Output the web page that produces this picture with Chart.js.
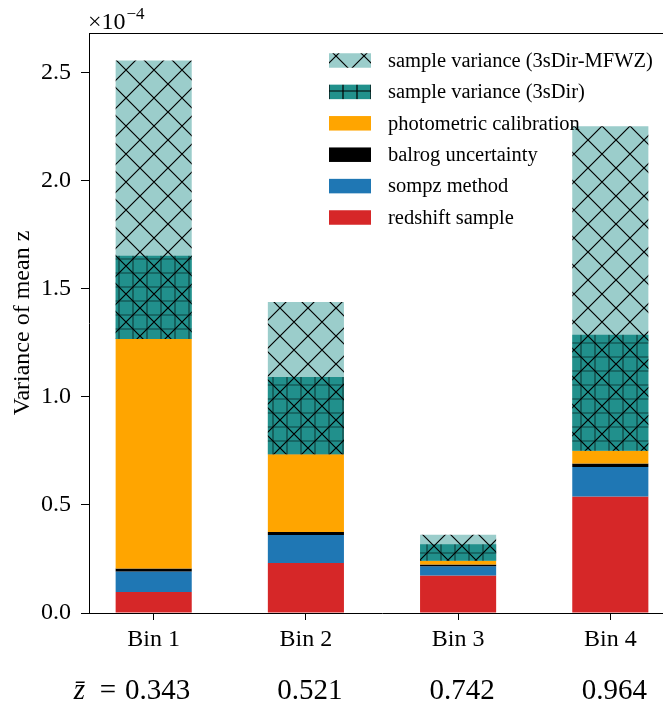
<!DOCTYPE html>
<html>
<head>
<meta charset="utf-8">
<script src="https://cdn.jsdelivr.net/npm/chart.js@4.4.1/dist/chart.umd.min.js"></script>
<style>
  html, body { margin: 0; padding: 0; overflow: hidden; background: #fff; }
  canvas { display: block; }
</style>
</head>
<body>
<canvas id="chart" width="700" height="704"></canvas>
<script>
// Tomographic bins and their mean redshifts
const bins = ['Bin 1', 'Bin 2', 'Bin 3', 'Bin 4'];
const zMeans = ['0.343', '0.521', '0.742', '0.964'];

// Contributions to the variance of the mean redshift, in units of 1e-4
const redshiftSample         = [0.097, 0.231, 0.174, 0.539];
const sompzMethod            = [0.095, 0.130, 0.042, 0.136];
const balrogUncertainty      = [0.014, 0.014, 0.008, 0.017];
const photometricCalibration = [1.061, 0.359, 0.018, 0.059];
const sampleVar3sDir         = [0.386, 0.358, 0.076, 0.536];
const sampleVar3sDirMFWZ     = [1.288, 0.705, 0.120, 1.500];

const yTickValues = [0, 0.5, 1.0, 1.5, 2.0, 2.5];

const FONT = '"Liberation Serif", "Times New Roman", serif';
const canvas = document.getElementById('chart');
const mainCtx = canvas.getContext('2d');

// Hatched fills
function makePattern(size, fill, drawLines) {
  const tile = document.createElement('canvas');
  tile.width = tile.height = size;
  const g = tile.getContext('2d');
  g.fillStyle = fill;
  g.fillRect(0, 0, size, size);
  g.strokeStyle = '#000';
  g.lineWidth = 1.2;
  drawLines(g, size);
  return mainCtx.createPattern(tile, 'repeat');
}
const crossHatch = makePattern(28, 'rgba(33,145,140,0.45)', (g, s) => {
  g.beginPath();
  for (const d of [-s, 0, s]) {
    g.moveTo(d - 2, -2); g.lineTo(d + s + 2, s + 2);
    g.moveTo(d - 2, s + 2); g.lineTo(d + s + 2, -2);
  }
  g.stroke();
});
const plusHatch = makePattern(14, 'rgb(33,145,140)', (g, s) => {
  g.beginPath();
  g.moveTo(s / 2, 0); g.lineTo(s / 2, s);
  g.moveTo(0, s / 2); g.lineTo(s, s / 2);
  g.stroke();
});

// Stack the segments: each one starts where the previous one ends
const segments = [redshiftSample, sompzMethod, balrogUncertainty, photometricCalibration];
const tops = bins.map(() => 0);
const ranges = segments.map(vals => vals.map((v, i) => {
  const r = [tops[i], tops[i] + v];
  tops[i] += v;
  return r;
}));
// Both sample-variance estimates sit on top of the calibration terms
const range3sDir = sampleVar3sDir.map((v, i) => [tops[i], tops[i] + v]);
const rangeMFWZ = sampleVar3sDirMFWZ.map((v, i) => [tops[i], tops[i] + v]);
const yMax = 1.05 * Math.max(...range3sDir.map(r => r[1]), ...rangeMFWZ.map(r => r[1]));

const toPoints = rs => rs.map((r, i) => ({ x: i, y: r }));

const datasets = [
  { label: 'sample variance (3sDir-MFWZ)', data: toPoints(rangeMFWZ), backgroundColor: crossHatch },
  { label: 'sample variance (3sDir)', data: toPoints(range3sDir), backgroundColor: plusHatch },
  { label: 'photometric calibration', data: toPoints(ranges[3]), backgroundColor: '#ffa500' },
  { label: 'balrog uncertainty', data: toPoints(ranges[2]), backgroundColor: '#000000' },
  { label: 'sompz method', data: toPoints(ranges[1]), backgroundColor: '#1f77b4' },
  { label: 'redshift sample', data: toPoints(ranges[0]), backgroundColor: '#d62728' }
];

// Frame, exponent, mean-redshift row and the in-plot legend
const decorations = {
  id: 'decorations',
  afterDraw(chart) {
    const { ctx, chartArea: a, scales: { x } } = chart;
    ctx.save();
    ctx.strokeStyle = '#000';
    ctx.lineWidth = 1;
    ctx.beginPath();
    ctx.moveTo(a.left, Math.round(a.top) + 0.5);
    ctx.lineTo(a.right, Math.round(a.top) + 0.5);
    ctx.lineTo(a.right, a.bottom);
    ctx.stroke();

    ctx.fillStyle = '#000';
    ctx.textBaseline = 'alphabetic';
    ctx.textAlign = 'left';
    ctx.font = '24px ' + FONT;
    ctx.fillText('\u00d710', a.left - 1, a.top - 4);
    const w = ctx.measureText('\u00d710').width;
    ctx.font = '17px ' + FONT;
    ctx.fillText('\u22124', a.left - 1 + w + 1, a.top - 14);

    // mean redshift of each bin
    const base = a.bottom + 86;
    ctx.font = '29px ' + FONT;
    zMeans.forEach((z, i) => {
      const px = x.getPixelForValue(i) + 4;
      ctx.textAlign = 'center';
      ctx.fillText(z, px, base);
      if (i === 0) {
        const zw = ctx.measureText(z).width;
        ctx.textAlign = 'right';
        ctx.fillText('=', px - zw / 2 - 9, base);
        ctx.font = 'italic 29px ' + FONT;
        ctx.fillText('z\u0304', px - zw / 2 - 40, base);
        ctx.font = '29px ' + FONT;
      }
    });

    // legend
    const boxX = a.left + 240, boxW = 42, boxH = 14.5, textX = boxX + 59;
    ctx.font = '20.5px ' + FONT;
    ctx.textAlign = 'left';
    ctx.textBaseline = 'middle';
    chart.data.datasets.forEach((ds, k) => {
      const cy = a.top + 27.5 + k * 31.4;
      ctx.fillStyle = ds.backgroundColor;
      ctx.fillRect(boxX, cy - boxH / 2, boxW, boxH);
      ctx.fillStyle = '#000';
      ctx.fillText(ds.label, textX, cy + 1);
    });
    ctx.restore();
  }
};

new Chart(canvas, {
  type: 'bar',
  data: { datasets },
  plugins: [decorations],
  options: {
    responsive: false,
    animation: false,
    devicePixelRatio: 1,
    layout: { padding: { top: 33, left: 0, right: 25, bottom: 0 } },
    datasets: { bar: { grouped: false, categoryPercentage: 1.0, barPercentage: 0.5, borderWidth: 0 } },
    plugins: { legend: { display: false }, tooltip: { enabled: false } },
    font: { family: FONT },
    scales: {
      x: {
        type: 'linear',
        offset: false,
        min: -0.425,
        max: 3.425,
        afterFit: s => { s.height = 91; },
        afterBuildTicks: s => { s.ticks = bins.map((_, i) => ({ value: i })); },
        grid: { offset: false, drawOnChartArea: false, drawTicks: true, tickLength: 7, color: '#000', lineWidth: 1 },
        border: { display: true, color: '#000', width: 1 },
        ticks: {
          autoSkip: false, maxRotation: 0, padding: 5, color: '#000',
          font: { family: FONT, size: 24 },
          callback: v => bins[v] ?? ''
        }
      },
      y: {
        type: 'linear',
        min: 0,
        max: yMax,
        afterFit: s => { s.width = 89; },
        afterBuildTicks: s => { s.ticks = yTickValues.map(v => ({ value: v })); },
        grid: { drawOnChartArea: false, drawTicks: true, tickLength: 8, color: '#000', lineWidth: 1 },
        border: { display: true, color: '#000', width: 1 },
        ticks: {
          padding: 10, color: '#000',
          font: { family: FONT, size: 24 },
          callback: v => v.toFixed(1)
        },
        title: {
          display: true, text: 'Variance of mean z', color: '#000',
          font: { family: FONT, size: 24 },
          padding: { top: 8, bottom: 0 }
        }
      }
    }
  }
});
</script>
</body>
</html>
